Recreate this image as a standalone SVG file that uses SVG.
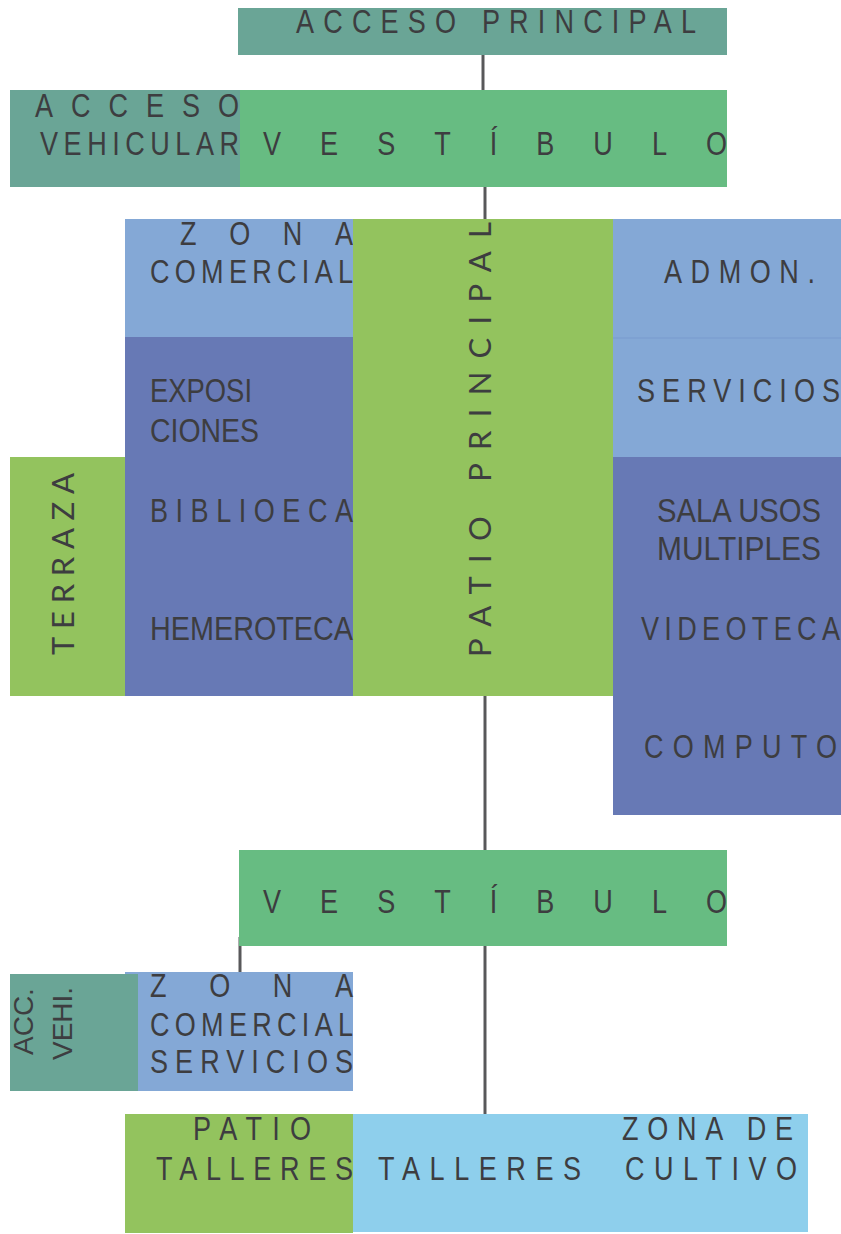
<svg xmlns="http://www.w3.org/2000/svg" width="841" height="1234" viewBox="0 0 841 1234">
  <style>
    .teal { fill: #6aa596; }
    .vest { fill: #67bc82; }
    .lgreen { fill: #93c35e; }
    .lblue { fill: #84a8d6; }
    .slate { fill: #6779b5; }
    .sky { fill: #8ecfec; }
    .seam { stroke: #7c9fd0; stroke-width: 1.5; }
    /* condensed labels: Liberation Sans squeezed to a narrow width via scale(0.82,1) */
    .lbl { font-family: "Liberation Sans", Arial, sans-serif; font-size: 33px; fill: #3d3d40; }
    .vert { font-family: Lato, "Open Sans", "Liberation Sans", sans-serif; font-size: 31px; fill: #3d3d40; }
    .small { font-family: "Liberation Sans", Arial, sans-serif; font-size: 28px; fill: #3d3d40; }
    .link { stroke: #58585a; stroke-width: 3; fill: none; }
  </style>

  <!-- connectors -->
  <g id="connectors">
    <line class="link" x1="483" y1="55" x2="483" y2="91"/>
    <line class="link" x1="485" y1="186" x2="485" y2="220"/>
    <line class="link" x1="485" y1="695" x2="485" y2="851"/>
    <line class="link" x1="485" y1="946" x2="485" y2="1115"/>
    <line class="link" x1="240" y1="937" x2="240" y2="974"/>
  </g>

  <g id="acceso-principal">
    <rect class="teal" x="238" y="8" width="489" height="47"/>
    <text class="lbl" transform="translate(296,33) scale(0.82,1)" textLength="487.8" lengthAdjust="spacing">ACCESO PRINCIPAL</text>
  </g>

  <g id="acceso-vehicular">
    <rect class="teal" x="10" y="90" width="230" height="97"/>
    <text class="lbl" transform="translate(35,117) scale(0.82,1)" textLength="248.8" lengthAdjust="spacing">ACCESO</text>
    <text class="lbl" transform="translate(40,155) scale(0.82,1)" textLength="242.7" lengthAdjust="spacing">VEHICULAR</text>
  </g>

  <g id="vestibulo-1">
    <rect class="vest" x="240" y="90" width="487" height="97"/>
    <text class="lbl" transform="translate(263,155) scale(0.82,1)" textLength="565.9" lengthAdjust="spacing">VESTÍBULO</text>
  </g>

  <g id="zona-comercial">
    <rect class="lblue" x="125" y="219" width="228" height="118"/>
    <text class="lbl" transform="translate(180,245) scale(0.82,1)" textLength="211" lengthAdjust="spacing">ZONA</text>
    <text class="lbl" transform="translate(150,283) scale(0.82,1)" textLength="247.6" lengthAdjust="spacing">COMERCIAL</text>
  </g>

  <g id="patio-principal">
    <rect class="lgreen" x="353" y="219" width="260" height="477"/>
    <text class="vert" transform="translate(491,657) rotate(-90)" textLength="435" lengthAdjust="spacing">PATIO PRINCIPAL</text>
  </g>

  <g id="admon">
    <rect class="lblue" x="613" y="219" width="228" height="119"/>
    <text class="lbl" transform="translate(664,283) scale(0.82,1)" textLength="184.1" lengthAdjust="spacing">ADMON.</text>
  </g>

  <g id="servicios">
    <rect class="lblue" x="613" y="338" width="228" height="119"/>
    <line class="seam" x1="613" y1="338" x2="841" y2="338"/>
    <text class="lbl" transform="translate(637,402) scale(0.82,1)" textLength="247.6" lengthAdjust="spacing">SERVICIOS</text>
  </g>

  <g id="exposiciones">
    <rect class="slate" x="125" y="337" width="228" height="120"/>
    <text class="lbl" transform="translate(150,402) scale(0.82,1)" textLength="124.4" lengthAdjust="spacingAndGlyphs">EXPOSI</text>
    <text class="lbl" transform="translate(150,442) scale(0.82,1)" textLength="132.9" lengthAdjust="spacingAndGlyphs">CIONES</text>
  </g>

  <g id="terraza">
    <rect class="lgreen" x="10" y="457" width="115" height="239"/>
    <text class="vert" transform="translate(73.5,655) rotate(-90)" textLength="182" lengthAdjust="spacing">TERRAZA</text>
  </g>

  <g id="biblioteca">
    <rect class="slate" x="125" y="457" width="228" height="119"/>
    <text class="lbl" transform="translate(150,522) scale(0.82,1)" textLength="247.6" lengthAdjust="spacing">BIBLIOECA</text>
  </g>

  <g id="hemeroteca">
    <rect class="slate" x="125" y="576" width="228" height="120"/>
    <text class="lbl" transform="translate(150,640) scale(0.82,1)" textLength="247.6" lengthAdjust="spacingAndGlyphs">HEMEROTECA</text>
  </g>

  <g id="sala-usos-multiples">
    <rect class="slate" x="613" y="457" width="228" height="119"/>
    <text class="lbl" transform="translate(657,522) scale(0.82,1)" textLength="200" lengthAdjust="spacingAndGlyphs">SALA USOS</text>
    <text class="lbl" transform="translate(657,560) scale(0.82,1)" textLength="200" lengthAdjust="spacingAndGlyphs">MULTIPLES</text>
  </g>

  <g id="videoteca">
    <rect class="slate" x="613" y="576" width="228" height="120"/>
    <text class="lbl" transform="translate(641,640) scale(0.82,1)" textLength="242.7" lengthAdjust="spacing">VIDEOTECA</text>
  </g>

  <g id="computo">
    <rect class="slate" x="613" y="696" width="228" height="119"/>
    <text class="lbl" transform="translate(644,758) scale(0.82,1)" textLength="235.4" lengthAdjust="spacing">COMPUTO</text>
  </g>

  <g id="vestibulo-2">
    <rect class="vest" x="239" y="850" width="488" height="96"/>
    <text class="lbl" transform="translate(263,913) scale(0.82,1)" textLength="565.9" lengthAdjust="spacing">VESTÍBULO</text>
  </g>

  <g id="zona-comercial-servicios">
    <rect class="lblue" x="125" y="972" width="228" height="119"/>
    <text class="lbl" transform="translate(150,997) scale(0.82,1)" textLength="247.6" lengthAdjust="spacing">ZONA</text>
    <text class="lbl" transform="translate(150,1036) scale(0.82,1)" textLength="247.6" lengthAdjust="spacing">COMERCIAL</text>
    <text class="lbl" transform="translate(150,1073) scale(0.82,1)" textLength="247.6" lengthAdjust="spacing">SERVICIOS</text>
  </g>

  <g id="acc-vehi">
    <rect class="teal" x="10" y="974" width="128" height="117"/>
    <text class="small" transform="translate(33,1055) rotate(-90)">ACC.</text>
    <text class="small" transform="translate(72,1060) rotate(-90)">VEHI.</text>
  </g>

  <g id="patio-talleres">
    <rect class="lgreen" x="125" y="1114" width="228" height="119"/>
    <text class="lbl" transform="translate(193,1140) scale(0.82,1)" textLength="143.9" lengthAdjust="spacing">PATIO</text>
    <text class="lbl" transform="translate(156,1180) scale(0.82,1)" textLength="240.2" lengthAdjust="spacing">TALLERES</text>
  </g>

  <g id="talleres-cultivo">
    <rect class="sky" x="353" y="1114" width="455" height="118"/>
    <text class="lbl" transform="translate(378,1180) scale(0.82,1)" textLength="247.6" lengthAdjust="spacing">TALLERES</text>
    <text class="lbl" transform="translate(622,1140) scale(0.82,1)" textLength="208.5" lengthAdjust="spacing">ZONA DE</text>
    <text class="lbl" transform="translate(625,1180) scale(0.82,1)" textLength="209.8" lengthAdjust="spacing">CULTIVO</text>
  </g>
</svg>
